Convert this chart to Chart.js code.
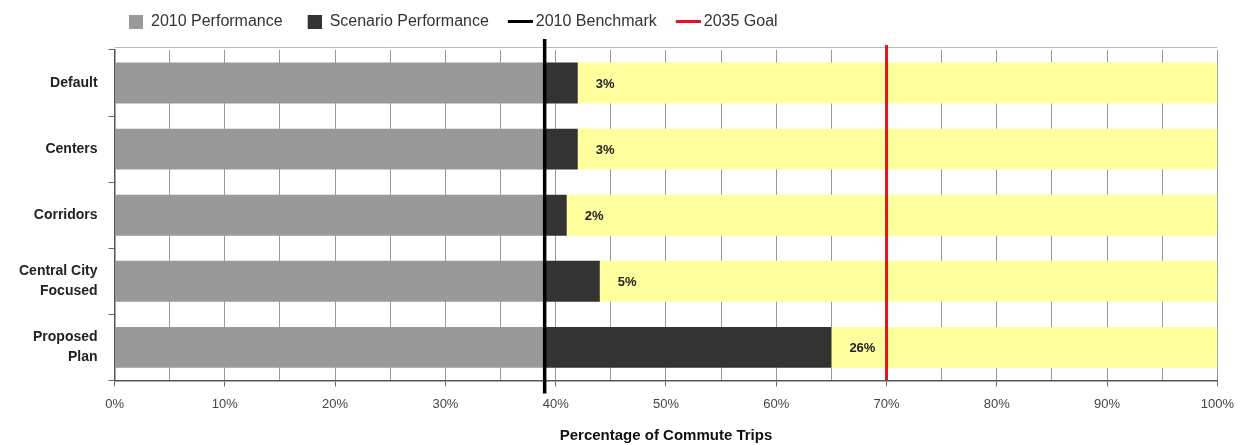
<!DOCTYPE html>
<html>
<head>
<meta charset="utf-8">
<script src="https://cdn.jsdelivr.net/npm/chart.js@4/dist/chart.umd.min.js"></script>
<style>
  html, body { margin: 0; padding: 0; background: #fff; }
  #wrap { width: 1244px; height: 445px; }
</style>
</head>
<body>
<div id="wrap"><canvas id="commuteChart"></canvas></div>
<script>
// data
const scenarios = ['Default', 'Centers', 'Corridors', ['Central City', 'Focused'], ['Proposed', 'Plan']];
const perf2010 = [39, 39, 39, 39, 39];
const scenarioGain = [3, 3, 2, 5, 26];
const benchmark2010 = 39;
const goal2035 = 70;
const xTicks = [0, 10, 20, 30, 40, 50, 60, 70, 80, 90, 100];

const remaining = perf2010.map((v, i) => 100 - v - scenarioGain[i]);

const FONT = "'Liberation Sans', Arial, sans-serif";

// small icons for the legend (square on the right of the slot, lines a bit wider)
function makeIcon(kind, color) {
    const c = document.createElement('canvas');
    c.width = kind === 'box' ? 28 : 38;
    c.height = 14;
    const g = c.getContext('2d');
    g.fillStyle = color;
    if (kind === 'box') {
        g.fillRect(14, 0, 14, 14);
    } else {
        g.fillRect(13, 5, 25, 3);
    }
    return c;
}

const refLines = {
    id: 'refLines',
    beforeInit(chart) {
        const legend = chart.legend;
        const origFit = legend.fit;
        legend.fit = function () {
            origFit.call(this);
            this.height += 10;
        };
    },
    afterLayout(chart) {
        chart.legend.left = 104;
    },
    beforeDatasetsDraw(chart) {
        const { ctx, chartArea } = chart;
        ctx.save();
        ctx.strokeStyle = '#bbbbbb';
        ctx.lineWidth = 1;
        ctx.beginPath();
        ctx.moveTo(chartArea.left, chartArea.top - 2.5);
        ctx.lineTo(chartArea.right, chartArea.top - 2.5);
        ctx.stroke();
        ctx.restore();
    },
    afterDatasetsDraw(chart) {
        const { ctx, chartArea, scales } = chart;
        const x = scales.x;

        // labels for the scenario gain
        const meta = chart.getDatasetMeta(1);
        ctx.save();
        ctx.font = 'bold 13px ' + FONT;
        ctx.fillStyle = '#222';
        ctx.textAlign = 'left';
        ctx.textBaseline = 'middle';
        meta.data.forEach((bar, i) => {
            ctx.fillText(scenarioGain[i] + '%', bar.x + 18, bar.y + 1);
        });

        // 2010 benchmark
        const bx = x.getPixelForValue(benchmark2010);
        ctx.strokeStyle = '#000';
        ctx.lineWidth = 3.5;
        ctx.beginPath();
        ctx.moveTo(bx, chartArea.top - 11);
        ctx.lineTo(bx, chartArea.bottom + 13);
        ctx.stroke();

        // 2035 goal
        const gx = x.getPixelForValue(goal2035);
        ctx.strokeStyle = '#e3141c';
        ctx.lineWidth = 3;
        ctx.beginPath();
        ctx.moveTo(gx, chartArea.top - 5);
        ctx.lineTo(gx, chartArea.bottom);
        ctx.stroke();
        ctx.restore();
    }
};

const legendItem = (text, icon, color) => ({
    text: text, pointStyle: icon, fontColor: '#333',
    lineWidth: 0, strokeStyle: 'transparent', fillStyle: color
});

const ctx = document.getElementById('commuteChart').getContext('2d');
new Chart(ctx, {
    type: 'bar',
    data: {
        labels: scenarios,
        datasets: [
            { label: '2010 Performance', data: perf2010, backgroundColor: '#999999' },
            { label: 'Scenario Performance', data: scenarioGain, backgroundColor: '#333333' },
            { label: 'remaining', data: remaining, backgroundColor: '#ffff9e' }
        ]
    },
    options: {
        indexAxis: 'y',
        responsive: true,
        maintainAspectRatio: false,
        animation: false,
        datasets: {
            bar: { barPercentage: 0.62, categoryPercentage: 1 }
        },
        layout: { padding: { left: 8, right: 23, top: 3, bottom: 0 } },
        plugins: {
            tooltip: { enabled: false },
            legend: {
                position: 'top',
                align: 'start',
                labels: {
                    usePointStyle: true,
                    pointStyleWidth: 28,
                    padding: 11,
                    color: '#333',
                    font: { family: FONT, size: 16 },
                    generateLabels: function () {
                        return [
                            legendItem('2010 Performance', makeIcon('box', '#999999'), '#999999'),
                            legendItem('Scenario Performance', makeIcon('box', '#333333'), '#333333'),
                            legendItem('2010 Benchmark', makeIcon('line', '#000000'), '#000000'),
                            legendItem('2035 Goal', makeIcon('line', '#e3141c'), '#e3141c')
                        ];
                    }
                }
            }
        },
        scales: {
            x: {
                stacked: true,
                min: 0,
                max: 100,
                ticks: {
                    stepSize: 5,
                    autoSkip: false,
                    maxRotation: 0,
                    padding: 10,
                    color: '#444',
                    font: { family: FONT, size: 13 },
                    callback: v => xTicks.includes(v) ? v + '%' : ''
                },
                grid: {
                    color: '#999999',
                    tickColor: c => (c.tick && c.tick.value % 10 === 0) ? '#666666' : 'rgba(0,0,0,0)',
                    tickLength: 6
                },
                border: { color: '#555', width: 1.5 },
                title: {
                    display: true,
                    text: 'Percentage of Commute Trips',
                    color: '#111',
                    font: { family: FONT, size: 15, weight: 'bold' },
                    padding: { top: 5, bottom: 0 }
                }
            },
            y: {
                stacked: true,
                ticks: {
                    color: '#222',
                    padding: 11,
                    font: { family: FONT, size: 14, weight: 'bold', lineHeight: 1.4 }
                },
                grid: {
                    drawOnChartArea: false,
                    tickLength: 6,
                    color: '#666'
                },
                border: { color: '#555', width: 1.5 }
            }
        }
    },
    plugins: [refLines]
});
</script>
</body>
</html>
